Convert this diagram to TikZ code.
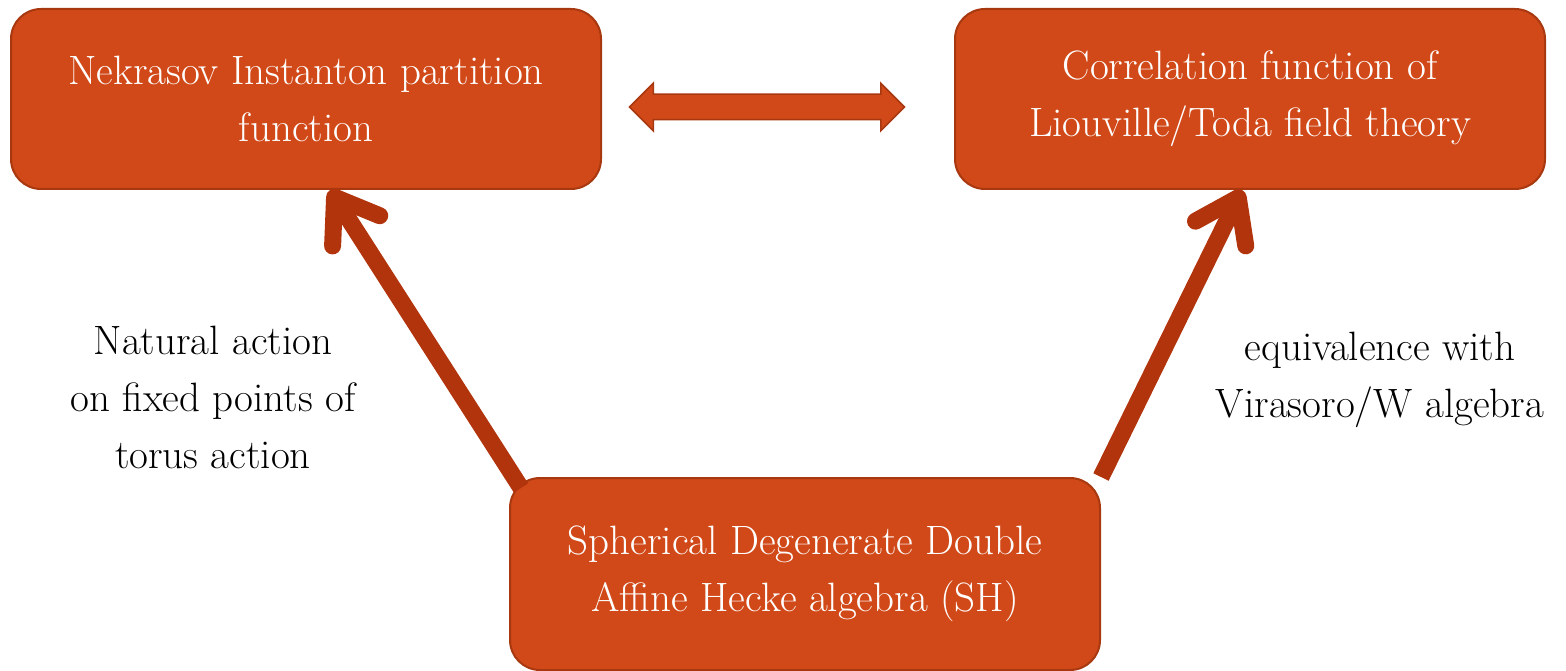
\documentclass[tikz,border=0pt]{standalone}
\usepackage{tikz}
\usepackage{xcolor}
\usetikzlibrary{arrows.meta, positioning, shapes.arrows}
\definecolor{boxfill}{RGB}{209,73,24}
\definecolor{boxline}{RGB}{168,56,15}
\definecolor{arrowcol}{RGB}{178,52,12}

\begin{document}
\begin{tikzpicture}[
  x=1pt, y=-1pt,
  box/.style={rectangle, draw=boxline, line width=2pt, rounded corners=30pt,
              fill=boxfill, minimum width=590pt, minimum height=180pt,
              text=white, font=\fontsize{41}{57}\selectfont, align=center, inner sep=2pt},
  lbl/.style={font=\fontsize{41}{57}\selectfont, align=center, inner sep=0pt},
  conn/.style={draw=arrowcol, line width=17pt,
               -{Straight Barb[length=40pt, width=56pt, round]}}
]
\useasboundingbox (0,0) rectangle (1566,671);
\node[box] (nek) at (306,99) {Nekrasov Instanton partition\\function};
\node[box, right=352pt of nek] (corr) {Correlation function of\\Liouville/Toda field theory};
\node[box, minimum height=192pt] (sh) at (805,574) {Spherical Degenerate Double\\Affine Hecke algebra (SH)};
\node[double arrow, draw=boxline, fill=boxfill, line width=1.5pt, inner sep=0pt,
      text height=12pt, text depth=12pt, minimum height=275pt,
      double arrow head extend=11pt, double arrow head indent=0pt] (biarrow) at (767,107) {};
\node[lbl] (natural) at (213,397) {Natural action\\on fixed points of\\torus action};
\node[lbl] (equiv) at (1380,380) {equivalence with\\Virasoro/W algebra};
\draw[conn] ([xshift=12pt, yshift=-11pt]sh.north west) -- ([xshift=24pt]nek.south);
\draw[conn] (sh.north east) -- ([xshift=-8pt]corr.south);
\end{tikzpicture}
\end{document}
